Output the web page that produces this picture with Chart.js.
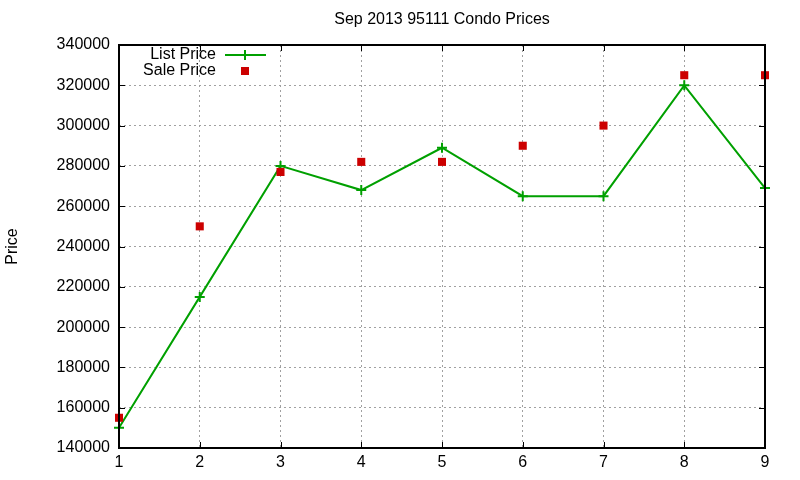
<!DOCTYPE html>
<html>
<head>
<meta charset="utf-8">
<script src="https://cdn.jsdelivr.net/npm/chart.js@4/dist/chart.umd.min.js"></script>
<style>
html,body{margin:0;padding:0;background:#fff;}
#wrap{width:800px;height:480px;}
</style>
</head>
<body>
<div id="wrap"><canvas id="c" width="800" height="480"></canvas></div>
<script>
const months = [1, 2, 3, 4, 5, 6, 7, 8, 9];
const listPrice = [150000, 215000, 280000, 268000, 289000, 265000, 265000, 320000, 269000];
const salePrice = [155000, 250000, 277000, 282000, 282000, 290000, 300000, 325000, 325000];
const titleText = 'Sep 2013 95111 Condo Prices';
const yTitle = 'Price';

const FONT = '"Liberation Sans", Arial, sans-serif';
const FS = 16;
const GREEN = '#00a000';
const RED = '#cc0000';

const frame = {
  id: 'frame',
  afterDatasetsDraw(chart) {
    const ctx = chart.ctx, a = chart.chartArea;
    const xs = chart.scales.x, ys = chart.scales.y;
    ctx.save();
    ctx.strokeStyle = '#000';
    ctx.lineWidth = 1;
    ctx.beginPath();
    const T = 6;
    ys.ticks.forEach(t => {
      const y = Math.round(ys.getPixelForValue(t.value)) + 0.5;
      ctx.moveTo(a.left, y); ctx.lineTo(a.left + T, y);
      ctx.moveTo(a.right, y); ctx.lineTo(a.right - T, y);
    });
    xs.ticks.forEach(t => {
      const x = Math.round(xs.getPixelForValue(t.value)) + 0.5;
      ctx.moveTo(x, a.bottom); ctx.lineTo(x, a.bottom - T);
      ctx.moveTo(x, a.top); ctx.lineTo(x, a.top + T);
    });
    ctx.stroke();
    ctx.lineWidth = 2;
    ctx.strokeRect(a.left, a.top, a.right - a.left, a.bottom - a.top);

    // legend (gnuplot style, inside top-left)
    ctx.font = FS + 'px ' + FONT;
    ctx.fillStyle = '#000';
    ctx.textAlign = 'right';
    ctx.textBaseline = 'middle';
    const ds = chart.data.datasets;
    const tx = 216, sx1 = 225, sx2 = 266, mx = 245;
    const y1 = 55, y2 = 71;
    ctx.fillText(ds[0].label, tx, y1);
    ctx.fillText(ds[1].label, tx, y2);
    ctx.strokeStyle = GREEN;
    ctx.lineWidth = 2;
    ctx.beginPath();
    ctx.moveTo(sx1, y1); ctx.lineTo(sx2, y1);
    ctx.moveTo(mx, y1 - 5); ctx.lineTo(mx, y1 + 5);
    ctx.stroke();
    ctx.fillStyle = RED;
    ctx.fillRect(mx - 4, y2 - 4, 8, 8);
    ctx.restore();
  }
};

new Chart(document.getElementById('c'), {
  type: 'line',
  data: {
    datasets: [
      {
        label: 'List Price',
        data: months.map((m, i) => ({ x: m, y: listPrice[i] })),
        borderColor: GREEN,
        backgroundColor: GREEN,
        borderWidth: 2,
        pointStyle: 'cross',
        pointRadius: 5,
        pointBorderWidth: 2,
        tension: 0,
        order: 2
      },
      {
        label: 'Sale Price',
        data: months.map((m, i) => ({ x: m, y: salePrice[i] })),
        showLine: false,
        borderColor: RED,
        backgroundColor: RED,
        borderWidth: 0,
        pointStyle: 'rect',
        pointRadius: 5.7,
        pointBorderWidth: 0,
        order: 1
      }
    ]
  },
  options: {
    responsive: false,
    animation: false,
    clip: false,
    layout: { padding: { left: 0, right: 35, top: 0, bottom: 0 } },
    plugins: {
      legend: { display: false },
      tooltip: { enabled: false },
      title: {
        display: true,
        text: titleText,
        fullSize: false,
        color: '#000',
        font: { family: FONT, size: FS, weight: 'normal', lineHeight: 1.2 },
        padding: { top: 10, bottom: 15.8 }
      }
    },
    scales: {
      x: {
        type: 'linear',
        min: 1, max: 9,
        afterFit(s) { s.height = 32; },
        ticks: { stepSize: 1, color: '#000', padding: 5, font: { family: FONT, size: FS } },
        grid: { color: '#a0a0a0', lineWidth: 1, drawTicks: false },
        border: { display: false, dash: [2, 3] }
      },
      y: {
        min: 140000, max: 340000,
        afterFit(s) { s.width = 119; },
        ticks: { stepSize: 20000, color: '#000', padding: 9, font: { family: FONT, size: FS }, callback: v => String(v) },
        grid: { color: '#a0a0a0', lineWidth: 1, drawTicks: false },
        border: { display: false, dash: [2, 3] },
        title: { display: true, text: yTitle, color: '#000', font: { family: FONT, size: FS }, padding: { top: 3, bottom: 0 } }
      }
    }
  },
  plugins: [frame]
});
</script>
</body>
</html>
